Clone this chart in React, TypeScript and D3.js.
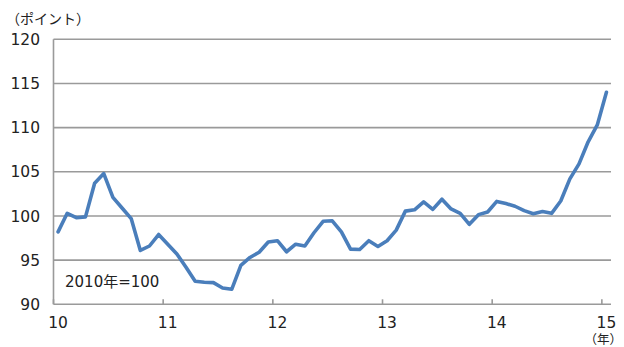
import React from "react";
import * as d3 from "d3";

const yearLabels = ["10", "11", "12", "13", "14", "15"];
const yTicks = [90, 95, 100, 105, 110, 115, 120];
// Monthly index, Jan 2010 – Jan 2015
const values = [
  98.2, 100.3, 99.8, 99.9, 103.7, 104.8, 102.1, 100.9, 99.7, 96.1, 96.6, 97.9,
  96.8, 95.7, 94.2, 92.6, 92.5, 92.45, 91.85, 91.7, 94.4, 95.3, 95.9, 97.05,
  97.2, 95.95, 96.8, 96.6, 98.1, 99.4, 99.45, 98.2, 96.25, 96.2, 97.2, 96.55,
  97.2, 98.4, 100.55, 100.7, 101.6, 100.75, 101.9, 100.8, 100.3, 99.05, 100.15, 100.45,
  101.65, 101.4, 101.1, 100.6, 100.25, 100.5, 100.3, 101.7, 104.2, 105.9, 108.4, 110.3,
  114.0,
];

const W = 624;
const H = 347;
const left = 53.5;
const right = 611;
const top = 39.3;
const bottom = 304.3;
const font = "'DejaVu Sans', 'Noto Sans CJK JP', sans-serif";

export default function App() {
  const n = values.length;
  const x = d3.scaleBand<number>().domain(d3.range(n)).range([left, right]).padding(0);
  const cx = (i: number) => (x(i) as number) + x.bandwidth() / 2;
  const y = d3.scaleLinear().domain([90, 120]).range([bottom, top]);
  const line = d3
    .line<number>()
    .x((_, i) => cx(i))
    .y((d) => y(d));

  return (
    <svg width={W} height={H} style={{ position: "absolute", left: 0, top: 0 }}>
      <rect width={W} height={H} fill="#fff" />
      {yTicks.slice(1).map((t) => (
        <line key={t} x1={left} x2={right} y1={y(t)} y2={y(t)} stroke="#9a9a9a" strokeWidth={1.6} />
      ))}
      <line x1={left} x2={left} y1={top} y2={bottom} stroke="#9a9a9a" strokeWidth={1.6} />
      <line x1={left} x2={right} y1={bottom} y2={bottom} stroke="#9a9a9a" strokeWidth={1.6} />
      {yearLabels.map((lab, k) => {
        const xt = x(k * 12) as number;
        return (
          <line key={lab} x1={xt} x2={xt} y1={bottom} y2={bottom - 5} stroke="#9a9a9a" strokeWidth={1.6} />
        );
      })}
      {yTicks.map((t) => (
        <text key={t} x={40} y={y(t)} dy="0.36em" textAnchor="end" fontFamily={font} fontSize={15.5} fill="#222">
          {t}
        </text>
      ))}
      {yearLabels.map((lab, k) => (
        <text key={lab} x={cx(k * 12)} y={328} textAnchor="middle" fontFamily={font} fontSize={15.5} fill="#222">
          {lab}
        </text>
      ))}
      <text x={622} y={344} textAnchor="end" fontFamily={font} fontSize={12.5} fill="#222">
        （年）
      </text>
      <text x={6} y={24} fontFamily={font} fontSize={14} fill="#222">
        （ポイント）
      </text>
      <text x={65} y={287} fontFamily={font} fontSize={15} fill="#222">
        2010年=100
      </text>
      <path d={line(values) || ""} fill="none" stroke="#4a7ebb" strokeWidth={3.6} strokeLinejoin="round" strokeLinecap="round" />
    </svg>
  );
}
